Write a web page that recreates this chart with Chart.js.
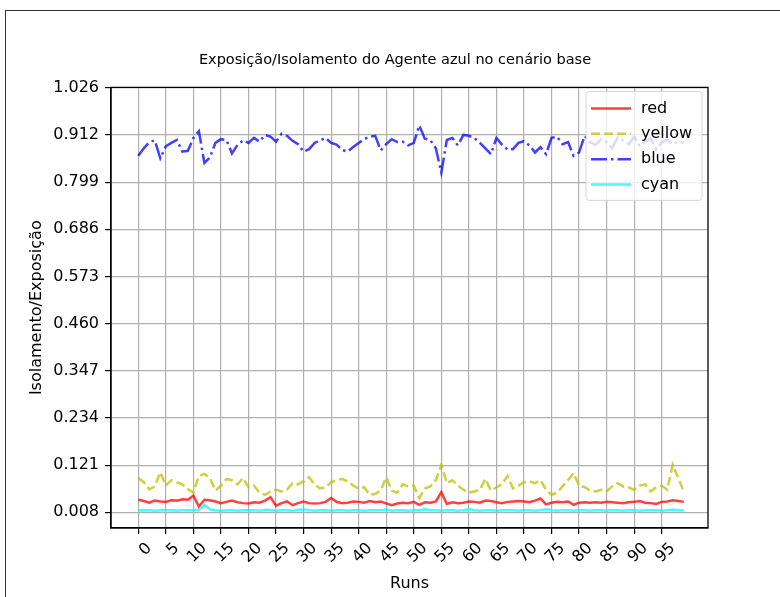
<!DOCTYPE html>
<html>
<head>
<meta charset="utf-8">
<script src="https://cdn.jsdelivr.net/npm/chart.js@4"></script>
<style>
html, body { margin: 0; padding: 0; background: #fff; overflow: hidden; }
#frame { position: absolute; left: 5px; top: 10px; width: 800px; height: 600px;
         border-left: 1px solid #333; border-top: 1px solid #333; }
#wrap { position: absolute; left: 0; top: 0; width: 780px; height: 597px; }
</style>
</head>
<body>
<div id="frame"></div>
<div id="wrap"><canvas id="c" width="780" height="597"></canvas></div>
<script>
// runs 0..99 on the x axis
const runs = Array.from({length: 100}, (_, i) => i);
const xTicks = [0, 5, 10, 15, 20, 25, 30, 35, 40, 45, 50, 55, 60, 65, 70, 75, 80, 85, 90, 95];
const yTicks = [0.008, 0.121, 0.234, 0.347, 0.460, 0.573, 0.686, 0.799, 0.912, 1.026];

const redVals = [
	0.038, 0.035, 0.031, 0.036, 0.034, 0.033, 0.037, 0.036, 0.039, 0.038,
	0.048, 0.022, 0.038, 0.037, 0.034, 0.030, 0.033, 0.036, 0.032, 0.030,
	0.029, 0.032, 0.031, 0.036, 0.044, 0.024, 0.030, 0.034, 0.025, 0.030,
	0.034, 0.030, 0.029, 0.030, 0.033, 0.042, 0.033, 0.030, 0.031, 0.034,
	0.033, 0.031, 0.035, 0.032, 0.034, 0.029, 0.025, 0.029, 0.031, 0.030,
	0.033, 0.026, 0.032, 0.031, 0.034, 0.056, 0.028, 0.032, 0.030, 0.031,
	0.034, 0.033, 0.031, 0.036, 0.035, 0.032, 0.030, 0.033, 0.034, 0.035,
	0.034, 0.032, 0.036, 0.041, 0.027, 0.031, 0.033, 0.032, 0.034, 0.026,
	0.031, 0.032, 0.031, 0.032, 0.031, 0.033, 0.032, 0.031, 0.030, 0.032,
	0.033, 0.035, 0.031, 0.030, 0.028, 0.033, 0.034, 0.037, 0.035, 0.033
];
const yellowVals = [
	0.090, 0.080, 0.063, 0.070, 0.104, 0.072, 0.085, 0.080, 0.075, 0.063,
	0.055, 0.095, 0.100, 0.090, 0.060, 0.072, 0.088, 0.085, 0.075, 0.090,
	0.068, 0.072, 0.055, 0.050, 0.058, 0.062, 0.058, 0.062, 0.078, 0.075,
	0.082, 0.092, 0.075, 0.065, 0.068, 0.080, 0.085, 0.088, 0.082, 0.072,
	0.065, 0.068, 0.050, 0.052, 0.060, 0.092, 0.060, 0.055, 0.075, 0.070,
	0.072, 0.042, 0.065, 0.070, 0.085, 0.122, 0.078, 0.085, 0.072, 0.062,
	0.055, 0.058, 0.062, 0.088, 0.060, 0.068, 0.075, 0.095, 0.065, 0.072,
	0.080, 0.082, 0.078, 0.085, 0.062, 0.050, 0.055, 0.070, 0.085, 0.102,
	0.072, 0.068, 0.060, 0.058, 0.062, 0.058, 0.070, 0.078, 0.070, 0.068,
	0.062, 0.072, 0.075, 0.058, 0.068, 0.072, 0.062, 0.122, 0.090, 0.058
];
const blueVals = [
	0.862, 0.880, 0.895, 0.899, 0.856, 0.885, 0.893, 0.900, 0.872, 0.874,
	0.905, 0.921, 0.845, 0.858, 0.893, 0.902, 0.900, 0.868, 0.888, 0.899,
	0.893, 0.905, 0.896, 0.912, 0.908, 0.896, 0.915, 0.910, 0.898, 0.890,
	0.872, 0.878, 0.893, 0.899, 0.905, 0.893, 0.889, 0.876, 0.872, 0.883,
	0.893, 0.902, 0.908, 0.910, 0.875, 0.890, 0.902, 0.895, 0.896, 0.887,
	0.893, 0.935, 0.903, 0.900, 0.880, 0.822, 0.900, 0.905, 0.887, 0.912,
	0.910, 0.905, 0.893, 0.880, 0.866, 0.905, 0.889, 0.877, 0.878, 0.893,
	0.897, 0.887, 0.870, 0.883, 0.866, 0.905, 0.908, 0.890, 0.895, 0.862,
	0.870, 0.910, 0.895, 0.888, 0.902, 0.895, 0.880, 0.906, 0.899, 0.890,
	0.908, 0.885, 0.896, 0.904, 0.878, 0.894, 0.901, 0.889, 0.897, 0.893
];
const cyanVals = [
	0.013, 0.013, 0.013, 0.012, 0.013, 0.013, 0.013, 0.012, 0.013, 0.013,
	0.013, 0.014, 0.026, 0.015, 0.013, 0.012, 0.013, 0.013, 0.012, 0.013,
	0.013, 0.013, 0.012, 0.014, 0.013, 0.012, 0.013, 0.013, 0.012, 0.014,
	0.015, 0.013, 0.012, 0.013, 0.013, 0.012, 0.013, 0.013, 0.012, 0.013,
	0.013, 0.012, 0.013, 0.013, 0.013, 0.015, 0.012, 0.013, 0.013, 0.012,
	0.013, 0.013, 0.015, 0.013, 0.013, 0.012, 0.013, 0.013, 0.012, 0.013,
	0.015, 0.013, 0.012, 0.013, 0.013, 0.012, 0.013, 0.013, 0.013, 0.012,
	0.013, 0.013, 0.012, 0.013, 0.015, 0.013, 0.012, 0.013, 0.013, 0.012,
	0.013, 0.013, 0.012, 0.013, 0.013, 0.012, 0.013, 0.013, 0.012, 0.013,
	0.013, 0.012, 0.013, 0.013, 0.013, 0.012, 0.013, 0.014, 0.013, 0.013
];

const font = 'DejaVu Sans';

function toPoints(vals){
	return vals.map((v, i) => ({x: runs[i], y: v}));
}

// legend drawn inside the plot, top right, like matplotlib's
const insideLegend = {
	id: 'insideLegend',
	afterDatasetsDraw(chart){
		const ctx = chart.ctx, a = chart.chartArea;
		const x0 = a.right - 122, y0 = a.top + 4, w = 116, h = 109;
		ctx.save();
		ctx.beginPath();
		ctx.roundRect(x0, y0, w, h, 3);
		ctx.fillStyle = 'rgba(255,255,255,0.8)';
		ctx.fill();
		ctx.strokeStyle = 'rgba(204,204,204,0.8)';
		ctx.lineWidth = 1;
		ctx.stroke();
		chart.data.datasets.forEach((ds, i) => {
			const y = a.top + 21 + i * 25.4;
			ctx.setLineDash(ds.borderDash || []);
			ctx.strokeStyle = ds.borderColor;
			ctx.lineWidth = ds.borderWidth;
			ctx.beginPath();
			ctx.moveTo(x0 + 5, y);
			ctx.lineTo(x0 + 45, y);
			ctx.stroke();
			ctx.setLineDash([]);
			ctx.fillStyle = '#000';
			ctx.font = '16px "' + font + '"';
			ctx.textBaseline = 'middle';
			ctx.fillText(ds.label, x0 + 55, y);
		});
		ctx.restore();
	},
	afterDraw(chart){
		// top and right spines
		const ctx = chart.ctx, a = chart.chartArea;
		ctx.save();
		ctx.strokeStyle = '#000';
		ctx.lineWidth = 1.3;
		ctx.strokeRect(a.left, a.top, a.right - a.left, a.bottom - a.top);
		ctx.restore();
	}
};

const lineDs = (label, vals, color, dash) => ({
	label: label,
	data: toPoints(vals),
	borderColor: color,
	borderWidth: 2.5,
	borderDash: dash,
	pointRadius: 0,
	tension: 0,
	fill: false
});

new Chart(document.getElementById('c'), {
	type: 'line',
	data: {
		datasets: [
			lineDs('red', redVals, 'rgba(255,0,0,0.75)', []),
			lineDs('yellow', yellowVals, 'rgba(191,191,0,0.75)', [9, 4]),
			lineDs('blue', blueVals, 'rgba(0,0,255,0.75)', [16, 4, 2.5, 4]),
			lineDs('cyan', cyanVals, 'rgba(0,255,255,0.75)', [])
		]
	},
	options: {
		responsive: false,
		animation: false,
		layout: {padding: {left: 10, right: 0, top: 10, bottom: 0}},
		plugins: {
			legend: {display: false},
			tooltip: {enabled: false},
			title: {
				display: true,
				text: 'Exposição/Isolamento do Agente azul no cenário base',
				color: '#000',
				font: {family: font, size: 14.5, weight: 'normal'},
				padding: {top: 42, bottom: 18}
			}
		},
		scales: {
			x: {
				type: 'linear',
				min: -4.95,
				max: 103.4,
				afterBuildTicks: s => { s.ticks = xTicks.map(v => ({value: v})); },
				afterFit: s => { s.height = 69; },
				ticks: {
					autoSkip: false,
					minRotation: 45,
					maxRotation: 45,
					padding: 5,
					labelOffset: 11,
					color: '#000',
					font: {family: font, size: 16},
					callback: v => String(v)
				},
				grid: {color: '#b0b0b0', lineWidth: 1.2, tickColor: '#000', tickLength: 6},
				border: {color: '#000', width: 1.3},
				title: {
					display: true,
					text: 'Runs',
					color: '#000',
					font: {family: font, size: 16},
					padding: {top: 0, bottom: 4}
				}
			},
			y: {
				min: -0.0296,
				max: 1.026,
				afterBuildTicks: s => { s.ticks = yTicks.map(v => ({value: v})); },
				afterFit: s => { s.width = 101; },
				ticks: {
					padding: 6,
					color: '#000',
					font: {family: font, size: 16},
					callback: v => v.toFixed(3)
				},
				grid: {color: '#b0b0b0', lineWidth: 1.2, tickColor: '#000', tickLength: 6},
				border: {color: '#000', width: 1.3},
				title: {
					display: true,
					text: 'Isolamento/Exposição',
					color: '#000',
					font: {family: font, size: 16},
					padding: {top: 17, bottom: 0}
				}
			},
			yRight: {
				position: 'right',
				display: true,
				afterFit: s => { s.width = 72; },
				ticks: {display: false},
				grid: {display: false},
				border: {display: false}
			}
		}
	},
	plugins: [insideLegend]
});
</script>
</body>
</html>
